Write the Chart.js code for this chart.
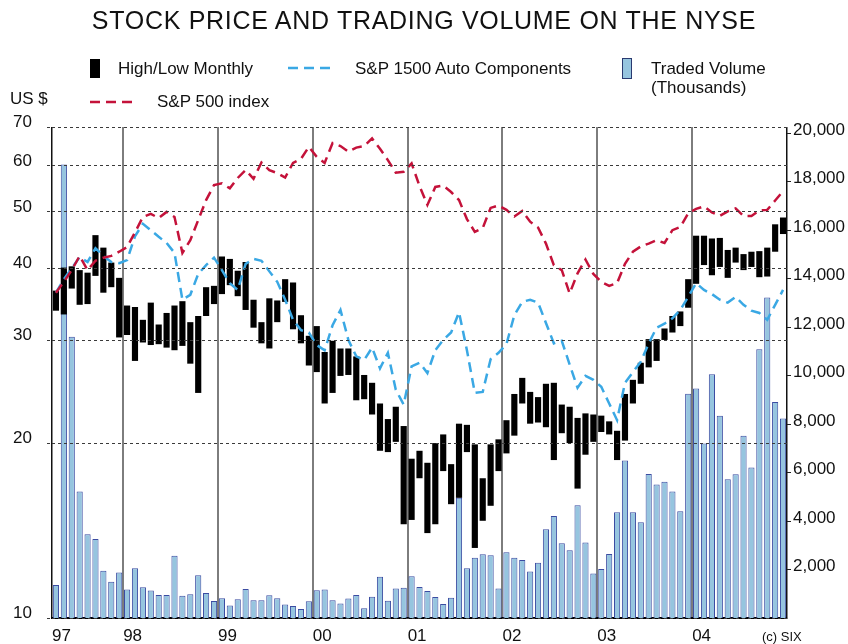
<!DOCTYPE html>
<html>
<head>
<meta charset="utf-8">
<script src="https://cdn.jsdelivr.net/npm/chart.js@4/dist/chart.umd.min.js"></script>
<style>
html,body{margin:0;padding:0;background:#fff;}
#wrap{position:relative;width:848px;height:644px;overflow:hidden;font-family:"Liberation Sans",Arial,Helvetica,sans-serif;color:#111;}
#c{position:absolute;left:0;top:0;}
.t{position:absolute;white-space:nowrap;line-height:1;font-size:17px;}
.sym{position:absolute;}
</style>
</head>
<body>
<div id="wrap">
<canvas id="c" width="848" height="644"></canvas>
<div class="t" style="left:0;width:848px;text-align:center;top:8px;font-size:25px;letter-spacing:0.7px;">STOCK PRICE AND TRADING VOLUME ON THE NYSE</div>
<div class="sym" style="left:90px;top:59px;width:10px;height:19px;background:#000;"></div>
<div class="t" style="left:118px;top:60px;">High/Low Monthly</div>
<svg class="sym" style="left:288px;top:64px;" width="50" height="8"><line x1="0" y1="4" x2="48" y2="4" stroke="#3aa8e4" stroke-width="2.5" stroke-dasharray="10 6"/></svg>
<div class="t" style="left:355px;top:60px;">S&amp;P 1500 Auto Components</div>
<div class="sym" style="left:622px;top:58px;width:8px;height:19px;background:#96c5df;border:1px solid #2a3a70;"></div>
<div class="t" style="left:651px;top:60px;">Traded Volume</div>
<div class="t" style="left:651px;top:79px;">(Thousands)</div>
<div class="t" style="left:10px;top:90px;">US $</div>
<svg class="sym" style="left:90px;top:98px;" width="50" height="8"><line x1="0" y1="4" x2="48" y2="4" stroke="#c4123a" stroke-width="2.5" stroke-dasharray="10 6"/></svg>
<div class="t" style="left:157px;top:93px;">S&amp;P 500 index</div>
<div class="t" style="left:762px;top:630px;font-size:13px;">(c) SIX</div>
</div>
<script>
// ---- data (monthly, Apr 1997 - Dec 2004) ----
const startYear = 1997;
const startMonth = 4;
const yearLabels = ['97','98','99','00','01','02','03','04'];
const priceTicks = [10, 20, 30, 40, 50, 60, 70];
const volumeTicks = [2000, 4000, 6000, 8000, 10000, 12000, 14000, 16000, 18000, 20000];

const lows = [33.8,33.3,36.9,34.6,34.7,38.8,36.3,37.1,30.4,
  30.7,27.7,29.8,29.5,29.6,29.2,28.9,29.4,27.4,24.4,33.1,34.7,
  36.1,37.4,35.8,33.9,31.6,29.7,29.1,32.3,35.0,31.4,29.7,27.2,
  26.5,23.4,24.4,26.1,26.2,23.7,23.8,22.4,19.4,19.3,20.1,14.5,
  14.75,17.4,14.0,14.5,17.9,15.7,16.1,19.3,13.2,14.7,15.6,17.9,
  19.2,20.6,23.4,21.6,21.7,21.3,18.7,20.8,20.0,16.7,19.1,20.1,
  20.9,20.7,18.7,20.2,23.4,25.3,27.0,27.7,30.1,31.0,31.8,34.2,
  37.6,40.5,38.9,40.2,38.5,40.9,39.7,40.2,38.6,38.7,42.7,45.8];

const highs = [36.6,40.1,40.3,39.7,39.3,45.6,43.4,40.9,38.5,
  34.5,34.3,32.6,34.9,32.0,33.5,34.5,35.1,32.3,33.1,37.1,37.3,
  41.9,41.5,39.6,41.0,35.3,32.3,35.5,35.2,38.3,37.8,33.2,30.6,
  31.8,28.7,30.0,29.1,29.1,28.2,26.2,25.4,23.4,22.0,23.1,21.4,
  18.8,19.4,18.5,20.0,20.7,18.4,21.6,21.5,19.9,17.4,19.9,20.3,
  21.9,24.3,25.9,24.5,24.0,25.3,25.4,23.3,23.1,22.1,22.5,22.4,
  22.3,21.8,21.0,24.3,25.7,27.5,30.2,30.2,31.5,33.1,33.7,38.3,
  45.5,45.5,45.0,45.1,43.0,43.4,42.3,42.7,42.8,43.4,47.6,48.9];

const volume = [1360,18700,11600,5220,3450,3260,1950,1500,1880,
  1180,2050,1270,1130,950,950,2570,920,980,1760,1030,700,
  810,520,770,1200,730,730,940,810,560,490,370,690,
  1140,1180,730,600,800,950,400,880,1700,710,1220,1250,
  1720,1280,1110,870,580,840,4960,2050,2490,2630,2590,1220,
  2710,2490,2390,1920,2280,3660,4210,3080,2790,4650,3110,1840,
  2020,2640,4360,6500,4360,3950,5940,5510,5620,5220,4400,9250,
  9470,7200,10050,8340,5720,5930,7520,6210,11080,13220,8910,8230];

const sp500 = [36.3,37.9,39.7,42.0,39.7,41.2,41.7,42.0,42.7,
  43.5,46.1,49.0,49.6,48.8,50.0,49.0,42.5,44.7,48.4,52.4,55.6,
  56.0,54.9,57.2,59.0,57.0,60.8,59.0,58.3,57.3,60.7,61.7,64.7,
  62.2,60.7,65.7,64.9,63.5,64.5,64.9,66.9,64.2,61.4,58.4,58.6,
  60.6,55.4,51.4,55.2,55.5,54.1,52.4,48.6,46.2,46.9,50.8,51.3,
  50.4,49.1,50.2,48.1,47.0,44.1,40.5,39.7,36.2,39.2,41.4,39.1,
  37.9,37.3,37.7,40.7,42.7,43.6,44.1,44.7,44.2,46.5,47.1,49.7,
  50.6,51.1,49.9,49.2,50.1,50.7,49.2,49.2,50.3,50.4,52.3,54.3];

const autoComp = [36.3,38.3,40.0,41.8,41.0,43.3,42.0,41.0,40.8,
  41.3,45.4,47.7,46.5,45.3,44.2,42.5,35.3,36.0,39.1,40.5,41.7,
  39.7,37.7,36.7,40.7,41.5,41.2,39.5,37.9,35.3,32.6,31.3,31.0,
  29.5,28.9,31.9,33.9,30.1,28.2,27.8,29.2,26.9,28.6,24.7,23.3,
  27.1,27.5,26.4,28.9,30.1,31.0,33.6,28.9,24.4,24.5,27.9,28.6,
  29.6,33.2,35.0,35.3,34.9,32.2,29.7,30.0,27.3,24.9,26.1,25.7,
  25.0,23.4,21.9,25.4,26.5,27.6,29.7,31.6,32.1,32.8,33.9,35.7,
  37.7,36.7,36.1,35.3,34.9,35.7,34.6,33.8,33.5,32.6,34.6,36.7];

// month categories and the year boundaries derived from them
const months = lows.map((_, i) => {
  const m = startMonth - 1 + i;
  return (startYear + Math.floor(m / 12)) + '-' + String(m % 12 + 1).padStart(2, '0');
});
const yearTicks = months.map((m, i) => (i === 0 || m.endsWith('-01')) ? i : -1).filter(v => v >= 0);
const edgeTicks = yearTicks.concat([months.length]);

const pos = i => i + 0.5;
const FONT = '"Liberation Sans", Arial, Helvetica, sans-serif';
Chart.defaults.font.family = FONT;
Chart.defaults.font.size = 17;
Chart.defaults.color = '#111';

new Chart(document.getElementById('c'), {
  type: 'bar',
  data: {
    datasets: [
      { type: 'line', label: 'S&P 500 index', yAxisID: 'y', order: 0,
        data: sp500.map((v, i) => ({ x: pos(i), y: v })),
        borderColor: '#c4123a', borderWidth: 2.5, borderDash: [10, 6],
        pointRadius: 0, tension: 0, fill: false },
      { type: 'line', label: 'S&P 1500 Auto Components', yAxisID: 'y', order: 0,
        data: autoComp.map((v, i) => ({ x: pos(i), y: v })),
        borderColor: '#3aa8e4', borderWidth: 2.5, borderDash: [10, 6],
        pointRadius: 0, tension: 0, fill: false },
      { type: 'bar', label: 'High/Low Monthly', yAxisID: 'y', order: 1,
        data: lows.map((l, i) => ({ x: pos(i), y: [l, highs[i]] })),
        backgroundColor: '#000', borderWidth: 0, grouped: false,
        barPercentage: 0.78, categoryPercentage: 1 },
      { type: 'bar', label: 'Traded Volume (Thousands)', yAxisID: 'yv', order: 2,
        data: volume.map((v, i) => ({ x: pos(i), y: v })),
        backgroundColor: '#96c5df', borderColor: '#3b4ca2', borderWidth: 1, borderSkipped: 'bottom',
        grouped: false, barPercentage: 0.78, categoryPercentage: 1 }
    ]
  },
  options: {
    responsive: false, animation: false, devicePixelRatio: 1,
    layout: { padding: { top: 127, left: 0, right: 0, bottom: 0 } },
    plugins: { legend: { display: false }, tooltip: { enabled: false }, title: { display: false } },
    scales: {
      x: {
        type: 'linear', min: 0, max: months.length, offset: false,
        afterFit: s => { s.height = 26; },
        afterBuildTicks: s => { s.ticks = edgeTicks.map(v => ({ value: v })); },
        ticks: { autoSkip: false, maxRotation: 0, align: 'start', padding: 8,
                 callback: (v, idx) => yearLabels[idx] || '' },
        grid: { offset: false,
                color: c => (c.tick && (c.tick.value === 0 || c.tick.value === months.length)) ? '#111' : '#7d7d7d',
                lineWidth: c => (c.tick && (c.tick.value === 0 || c.tick.value === months.length)) ? 1.5 : 2,
                drawTicks: false },
        border: { display: true, color: '#000', width: 2 }
      },
      y: {
        type: 'logarithmic', position: 'left', min: 10, max: 70,
        afterFit: s => { s.width = 52; },
        afterBuildTicks: s => { s.ticks = priceTicks.map(v => ({ value: v })); },
        ticks: { autoSkip: false, padding: 15, labelOffset: -5, callback: v => String(v) },
        grid: { color: '#3a3a3a', lineWidth: 1, tickLength: 5, z: 1, tickBorderDash: [3, 3] },
        border: { display: false, dash: [3, 3] }
      },
      yv: {
        type: 'linear', position: 'right', min: 0, max: 20250,
        afterFit: s => { s.width = 61; },
        afterBuildTicks: s => { s.ticks = volumeTicks.map(v => ({ value: v })); },
        ticks: { autoSkip: false, padding: 2, labelOffset: -3,
                 callback: v => v.toLocaleString('en-US') },
        grid: { drawOnChartArea: false, tickLength: 4, color: '#222', lineWidth: 1 },
        border: { display: false }
      }
    }
  }
});
</script>
</body>
</html>
